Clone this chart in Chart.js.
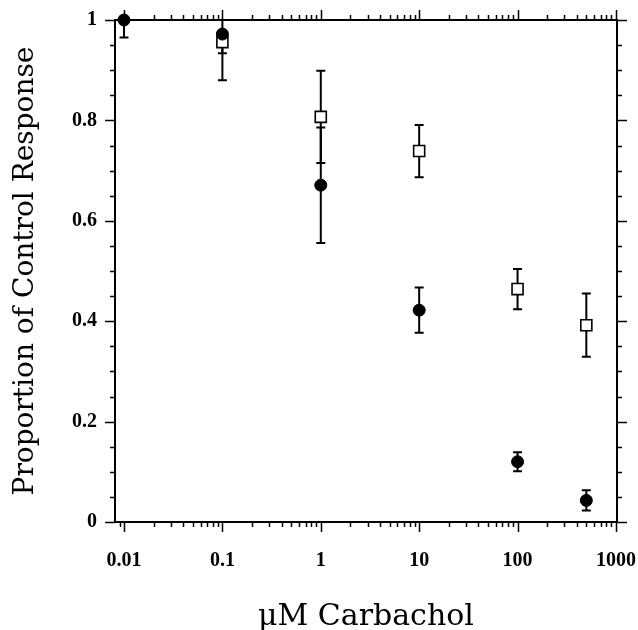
<!DOCTYPE html>
<html><head><meta charset="utf-8">
<script src="https://cdn.jsdelivr.net/npm/chart.js@4"></script>
<style>html,body{margin:0;padding:0;background:#fff}#wrap{width:638px;height:630px}</style>
</head><body><div id="wrap"><canvas id="c" width="638" height="630"></canvas></div>
<script>
// ---- data ----
const concentrations = [0.01, 0.1, 1, 10, 100, 500];
const filledValues = [1.0, 0.972, 0.671, 0.422, 0.12, 0.043];
const filledErrors = [0.035, 0.092, 0.115, 0.045, 0.019, 0.02];
const openValues = [null, 0.956, 0.807, 0.739, 0.464, 0.392];
const openErrors = [0.0, 0.022, 0.092, 0.052, 0.04, 0.063];
const xTickValues = [0.01, 0.1, 1, 10, 100, 1000];
const xTickLabels = ['0.01', '0.1', '1', '10', '100', '1000'];
const yTickValues = [0, 0.2, 0.4, 0.6, 0.8, 1];
const yTickLabels = ['0', '0.2', '0.4', '0.6', '0.8', '1'];
const xTitle = 'μM Carbachol';
const yTitle = 'Proportion of Control Response';

const toPoints = (vals, errs) => concentrations.map((x, i) => ({x: x, y: vals[i], e: errs[i]}));

const framePlugin = {
  id: 'frame',
  beforeDatasetsDraw(chart) {
    const {ctx, chartArea: a, scales: {x, y}} = chart;
    ctx.save();
    ctx.strokeStyle = '#000';
    ctx.lineWidth = 2;
    ctx.strokeRect(a.left, a.top, a.right - a.left, a.bottom - a.top);
    ctx.lineWidth = 1.5;
    ctx.beginPath();
    for (let p = -3; p <= 3; p++) {
      for (let m = 1; m <= 9; m++) {
        const v = m * Math.pow(10, p);
        if (v < x.min || v > x.max) continue;
        const px = Math.round(x.getPixelForValue(v)) + 0.5;
        const len = m === 1 ? 10 : 5;
        ctx.moveTo(px, a.bottom); ctx.lineTo(px, a.bottom + len);
        ctx.moveTo(px, a.top); ctx.lineTo(px, a.top - len);
      }
    }
    for (let k = 0; k <= 20; k++) {
      const v = k * 0.05;
      const py = Math.round(y.getPixelForValue(v)) + 0.5;
      const len = k % 4 === 0 ? 10 : 5;
      ctx.moveTo(a.left, py); ctx.lineTo(a.left - len, py);
      ctx.moveTo(a.right, py); ctx.lineTo(a.right + len, py);
    }
    ctx.stroke();
    ctx.save();
    ctx.beginPath();
    ctx.rect(a.left, a.top, a.right - a.left, a.bottom - a.top);
    ctx.clip();
    ctx.lineWidth = 2;
    chart.data.datasets.forEach(ds => {
      ds.data.forEach(pt => {
        if (!pt.e || pt.y === null) return;
        const px = x.getPixelForValue(pt.x);
        const y1 = y.getPixelForValue(pt.y + pt.e);
        const y2 = y.getPixelForValue(pt.y - pt.e);
        ctx.beginPath();
        ctx.moveTo(px, y1); ctx.lineTo(px, y2);
        ctx.moveTo(px - 4.5, y1); ctx.lineTo(px + 4.5, y1);
        ctx.moveTo(px - 4.5, y2); ctx.lineTo(px + 4.5, y2);
        ctx.stroke();
      });
    });
    ctx.restore();
    ctx.restore();
  }
};

const zeroPad = s => { s.paddingLeft = 0; s.paddingRight = 0; s.paddingTop = 0; s.paddingBottom = 0; };
const tickFont = {family: 'Liberation Serif', size: 20, weight: 'bold'};

new Chart(document.getElementById('c'), {
  type: 'scatter',
  data: {
    datasets: [
      {
        label: 'filled',
        data: toPoints(filledValues, filledErrors),
        pointStyle: 'circle',
        pointRadius: 6,
        pointBackgroundColor: '#000',
        pointBorderColor: '#000',
        pointBorderWidth: 1,
        clip: false,
        order: 0
      },
      {
        label: 'open',
        data: toPoints(openValues, openErrors),
        pointStyle: 'rect',
        pointRadius: 7.8,
        pointBackgroundColor: '#fff',
        pointBorderColor: '#000',
        pointBorderWidth: 1.6,
        clip: false,
        order: 1
      }
    ]
  },
  options: {
    responsive: false,
    devicePixelRatio: 1,
    animation: false,
    events: [],
    layout: {padding: {left: 0, top: 20, right: 21, bottom: 0}},
    plugins: {legend: {display: false}, tooltip: {enabled: false}},
    scales: {
      x: {
        type: 'logarithmic',
        position: 'bottom',
        min: 0.0081,
        max: 1025,
        grid: {display: false, drawTicks: false},
        border: {display: false},
        afterBuildTicks: s => { s.ticks = xTickValues.map(v => ({value: v})); },
        afterFit: s => { s.height = 108; zeroPad(s); },
        ticks: {
          color: '#000',
          font: tickFont,
          padding: 27,
          maxRotation: 0,
          autoSkip: false,
          callback: (v, i) => xTickLabels[i]
        },
        title: {
          display: true,
          text: xTitle,
          color: '#000',
          font: {family: 'DejaVu Serif', size: 30, lineHeight: 0.8},
          padding: {top: 0, bottom: 1}
        }
      },
      y: {
        type: 'linear',
        position: 'left',
        min: 0,
        max: 1,
        grid: {display: false, drawTicks: false},
        border: {display: false},
        afterBuildTicks: s => { s.ticks = yTickValues.map(v => ({value: v})); },
        afterFit: s => { s.width = 115; zeroPad(s); },
        ticks: {
          color: '#000',
          font: tickFont,
          padding: 18,
          autoSkip: false,
          callback: (v, i) => yTickLabels[i]
        },
        title: {
          display: true,
          text: yTitle,
          color: '#000',
          font: {family: 'DejaVu Serif', size: 28, lineHeight: 1.2},
          padding: {top: 9, bottom: 0}
        }
      }
    }
  },
  plugins: [framePlugin]
});
</script>
</body></html>
